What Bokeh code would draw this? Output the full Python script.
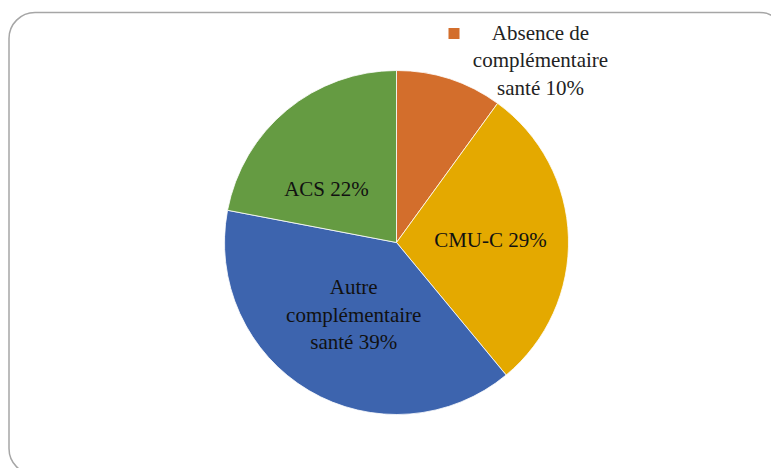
import math
from bokeh.plotting import figure
from bokeh.models import ColumnDataSource, Range1d
from bokeh.core.properties import value
from bokeh.embed import file_html
from bokeh.resources import INLINE

# ---- data ----
categories = ["Absence de complémentaire santé", "CMU-C", "Autre complémentaire santé", "ACS"]
shares = [10, 29, 39, 22]
colors = ["#D36E2C", "#E4A900", "#3D64AE", "#659B42"]
slice_labels = [None, "CMU-C 29%", "Autre\ncomplémentaire\nsanté 39%", "ACS  22%"]
legend_text = "Absence de\ncomplémentaire\nsanté 10%"

# ---- layout ----
W, H = 771, 468
CX, CY = 396, H - 242
R = 172
# label anchor adjustments (angle offset deg, radius) per slice
label_adj = [(0, 0), (0, 94), (0, 84), (12, 86)]
FONT = "'Liberation Serif', 'Times New Roman', serif"

p = figure(width=W, height=H, output_backend="svg", toolbar_location=None,
           x_range=Range1d(0, W), y_range=Range1d(0, H), min_border=0,
           background_fill_color="white", border_fill_color="white")
p.axis.visible = False
p.grid.visible = False
p.outline_line_color = None

# rounded border frame
p.quad(left=[8.5], right=[785], top=[H - 12], bottom=[-6], fill_color=None,
       line_color="#A6A6A6", line_width=1.5, border_radius=26)

total = sum(shares)
starts, ends, lx, ly, lt = [], [], [], [], []
cum = 0
for i, s in enumerate(shares):
    a0 = math.radians(90 - 360 * cum / total)
    cum += s
    a1 = math.radians(90 - 360 * cum / total)
    starts.append(a0)
    ends.append(a1)
    if slice_labels[i]:
        off, rr = label_adj[i]
        mid = (a0 + a1) / 2 + math.radians(off)
        lx.append(CX + rr * math.cos(mid))
        ly.append(CY + rr * math.sin(mid))
        lt.append(slice_labels[i])

src = ColumnDataSource(dict(start=starts, end=ends, color=colors))
p.wedge(x=CX, y=CY, radius=R, start_angle="start", end_angle="end",
        direction="clock", fill_color="color", line_color="white", line_width=0.8,
        source=src)

p.text(x=lx, y=ly, text=lt, text_font=value(FONT), text_font_size="21px",
       text_color="#111111", text_align="center", text_baseline="middle",
       text_line_height=1.15)

# legend (single entry, top-right)
p.scatter(x=[453.5], y=[H - 33], marker="square", size=11, fill_color=colors[0],
          line_color=None)
p.text(x=[540], y=[H - 60], text=[legend_text], text_font=value(FONT),
       text_font_size="21px", text_color="#222222", text_align="center",
       text_baseline="middle", text_line_height=1.15)

open("out.html", "w").write(file_html(p, INLINE))
